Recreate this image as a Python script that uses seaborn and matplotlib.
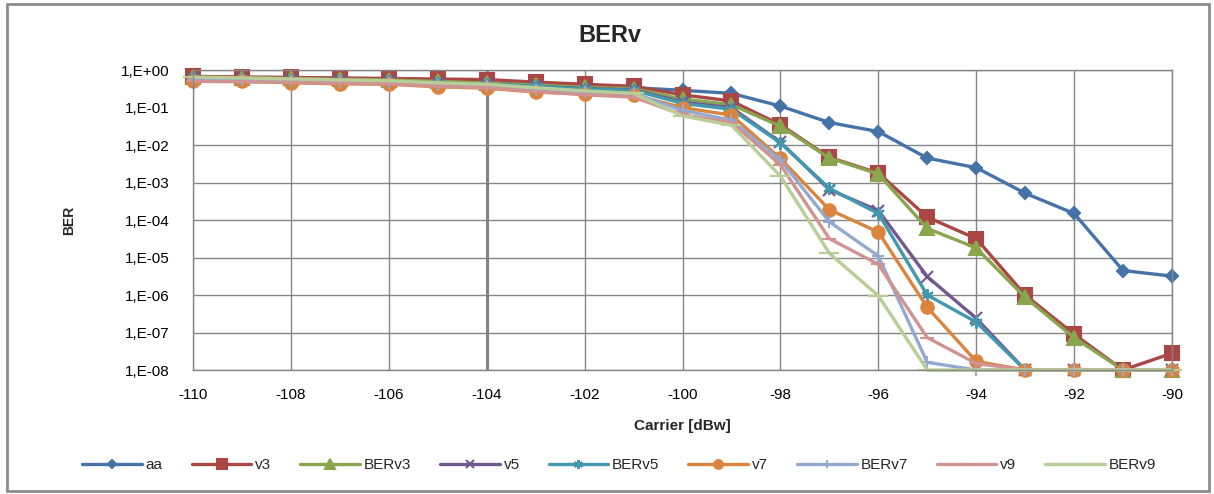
import numpy as np
import pandas as pd
import matplotlib
matplotlib.use("Agg")
import matplotlib.pyplot as plt
import matplotlib.ticker as mticker
from matplotlib.patches import Rectangle
import seaborn as sns

# Carrier [dBw]
carrier = list(range(-110, -89))

aa = [0.56, 0.56, 0.54, 0.52, 0.5, 0.47, 0.45, 0.42, 0.38, 0.34, 0.29, 0.24,
      0.11, 0.04, 0.023, 0.0045, 0.0025, 5.2e-4, 1.5e-4, 4.5e-6, 3.2e-6]
v3 = [0.68, 0.66, 0.64, 0.62, 0.6, 0.58, 0.56, 0.48, 0.42, 0.37, 0.22, 0.15,
      0.035, 0.0047, 0.0018, 1.2e-4, 3.2e-5, 1e-6, 9e-8, 1e-8, 2.8e-8]
BERv3 = [0.65, 0.63, 0.6, 0.57, 0.55, 0.5, 0.45, 0.4, 0.35, 0.32, 0.17, 0.12,
         0.032, 0.0045, 0.0017, 6e-5, 1.8e-5, 8.7e-7, 7.3e-8, 1e-8, 1e-8]
v5 = [0.6, 0.58, 0.55, 0.52, 0.5, 0.45, 0.42, 0.37, 0.32, 0.3, 0.14, 0.1,
      0.012, 6.5e-4, 1.8e-4, 3.1e-6, 2.4e-7, 1e-8, 1e-8, 1e-8, 1e-8]
BERv5 = [0.6, 0.58, 0.55, 0.52, 0.5, 0.45, 0.42, 0.37, 0.31, 0.29, 0.13, 0.09,
         0.0115, 7e-4, 1.5e-4, 1e-6, 1.9e-7, 1e-8, 1e-8, 1e-8, 1e-8]
v7 = [0.52, 0.5, 0.46, 0.43, 0.42, 0.36, 0.33, 0.26, 0.23, 0.22, 0.1, 0.063,
      0.0044, 1.9e-4, 4.8e-5, 4.7e-7, 1.7e-8, 1e-8, 1e-8, 1e-8, 1e-8]
BERv7 = [0.55, 0.53, 0.5, 0.47, 0.45, 0.4, 0.37, 0.3, 0.26, 0.24, 0.085, 0.046,
         0.004, 9e-5, 1.1e-5, 1.6e-8, 1e-8, 1e-8, 1e-8, 1e-8, 1e-8]
v9 = [0.5, 0.49, 0.47, 0.45, 0.43, 0.37, 0.34, 0.27, 0.22, 0.19, 0.065, 0.04,
      0.003, 3.2e-5, 6.6e-6, 7.3e-8, 1.5e-8, 1e-8, 1e-8, 1e-8, 1e-8]
BERv9 = [0.65, 0.62, 0.58, 0.55, 0.52, 0.46, 0.42, 0.34, 0.28, 0.24, 0.06, 0.034,
         0.0015, 1.3e-5, 9.6e-7, 1e-8, 1e-8, 1e-8, 1e-8, 1e-8, 1e-8]

series = {"aa": aa, "v3": v3, "BERv3": BERv3, "v5": v5, "BERv5": BERv5,
          "v7": v7, "BERv7": BERv7, "v9": v9, "BERv9": BERv9}

stil = {
    "aa":    dict(color="#4572A7", marker="D", markersize=6),
    "v3":    dict(color="#AA4643", marker="s", markersize=10),
    "BERv3": dict(color="#89A54E", marker="^", markersize=10),
    "v5":    dict(color="#71588F", marker="x", markersize=8),
    "BERv5": dict(color="#4198AF", marker=(6, 2, 0), markersize=9),
    "v7":    dict(color="#DB843D", marker="o", markersize=9),
    "BERv7": dict(color="#93A9CF", marker="+", markersize=9),
    "v9":    dict(color="#D19392", marker="_", markersize=10),
    "BERv9": dict(color="#B9CD96", marker="_", markersize=14),
}

sns.set_style("white")
plt.rcParams["font.family"] = ["Liberation Sans", "DejaVu Sans"]
plt.rcParams["axes.unicode_minus"] = False

fig = plt.figure(figsize=(12.14, 4.94), dpi=100)
ax = fig.add_axes([0.159, 0.251, 0.8064, 0.607])

for ad, deger in series.items():
    s = stil[ad]
    sns.lineplot(x=carrier, y=deger, ax=ax, label=ad, color=s["color"],
                 linewidth=2.4, marker=s["marker"], markersize=s["markersize"],
                 markeredgewidth=1.5, markeredgecolor=s["color"], clip_on=False)

ax.set_yscale("log")
ax.set_xlim(-110, -90)
ax.set_ylim(1e-8, 1)
ax.set_xticks(range(-110, -89, 2))
yticks = [10.0 ** e for e in range(-8, 1)]
ax.set_yticks(yticks)
ax.yaxis.set_minor_locator(mticker.NullLocator())
ax.yaxis.set_major_formatter(mticker.FuncFormatter(
    lambda v, p: "1,E{:+03d}".format(int(round(np.log10(v))))))
ax.tick_params(axis="both", labelsize=11, colors="black", length=0)
ax.tick_params(axis="x", pad=13)
ax.tick_params(axis="y", pad=17)

# Excel grid: the 1,E-01 line is not drawn in the original
ax.grid(True, axis="x", color="#868686", linewidth=1)
ax.hlines([t for t in yticks if t != 0.1], -110, -90, color="#868686",
          linewidth=1, zorder=0.5)
ax.axvline(-104, color="#808080", linewidth=2.2, zorder=0.5)
ax.set_axisbelow(True)

for side in ["top", "right", "left", "bottom"]:
    ax.spines[side].set_color("#868686")
    ax.spines[side].set_linewidth(1)

ax.set_xlabel("Carrier [dBw]", fontsize=11, fontweight="bold", labelpad=12)
ax.set_ylabel("BER", fontsize=10, fontweight="bold", labelpad=32)
fig.text(0.502, 0.928, "BERv", ha="center", va="center", fontsize=17,
         fontweight="bold")

handles, labels = ax.get_legend_handles_labels()
ax.get_legend().remove()
fig.legend(handles, labels, loc="center", bbox_to_anchor=(0.51, 0.058),
           ncol=9, frameon=False, fontsize=11, handlelength=3.9,
           columnspacing=1.9, handletextpad=0.25, markerscale=0.7)

fig.patches.append(Rectangle((0.006, 0.006), 0.99, 0.985, transform=fig.transFigure,
                             fill=False, edgecolor="#8c8c8c", linewidth=2))

plt.savefig("out.png", dpi=100)
